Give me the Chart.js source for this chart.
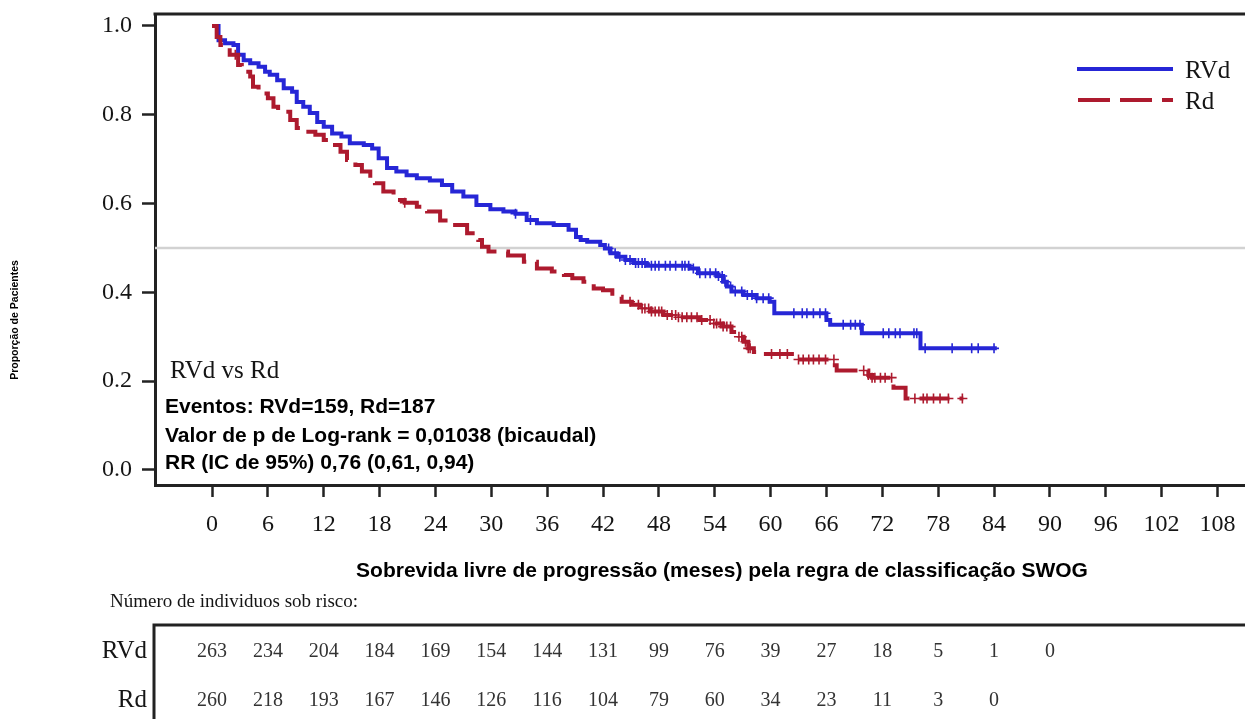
<!DOCTYPE html>
<html>
<head>
<meta charset="utf-8">
<script src="https://cdn.jsdelivr.net/npm/chart.js@4/dist/chart.umd.min.js"></script>
<style>
  html, body { margin: 0; padding: 0; background: #fff; }
  #wrap { width: 1245px; height: 719px; }
</style>
</head>
<body>
<div id="wrap"><canvas id="km" width="1245" height="719"></canvas></div>
<script>
// Axis ticks
const monthTicks = [0, 6, 12, 18, 24, 30, 36, 42, 48, 54, 60, 66, 72, 78, 84, 90, 96, 102, 108];
const proportionTicks = [0, 0.2, 0.4, 0.6, 0.8, 1.0];

// Kaplan-Meier step points: time (months) and survival level from that time on
const rvdTimes = [0, 0.7, 1.4, 2.3, 2.8, 3.4, 4.1, 5.0, 5.7, 6.2, 7.0, 7.7, 8.6, 9.1, 9.8, 10.5, 11.3, 12.0, 12.9, 13.9,
  14.8, 16.3, 17.2, 17.9, 18.8, 19.8, 20.9, 22.0, 23.4, 24.7, 25.8, 27.0, 28.4, 29.9, 31.3, 32.6, 33.8, 34.9, 36.7, 38.3,
  39.1, 39.6, 40.3, 41.7, 42.2, 42.8, 43.5, 44.4, 45.3, 46.7, 51.3, 52.2, 54.2, 54.9, 55.3, 55.8, 57.1, 58.5, 59.9, 60.4,
  66.0, 66.4, 69.8, 76.1, 84.3];
const rvdSurv = [1.0, 0.968, 0.961, 0.957, 0.935, 0.923, 0.916, 0.908, 0.897, 0.89, 0.878, 0.86, 0.852, 0.829, 0.818, 0.804, 0.784, 0.773, 0.758, 0.751,
  0.736, 0.732, 0.724, 0.702, 0.68, 0.672, 0.664, 0.657, 0.652, 0.642, 0.627, 0.616, 0.597, 0.587, 0.582, 0.577, 0.563, 0.556, 0.552, 0.541,
  0.525, 0.518, 0.514, 0.507, 0.499, 0.488, 0.48, 0.473, 0.466, 0.46, 0.454, 0.443, 0.437, 0.424, 0.413, 0.402, 0.394, 0.387, 0.379, 0.353,
  0.338, 0.327, 0.308, 0.274, 0.274];

const rdTimes = [0, 0.5, 0.9, 1.9, 2.8, 3.2, 4.1, 4.4, 5.0, 6.0, 6.6, 7.1, 8.4, 9.1, 9.8, 11.1, 12.0, 12.9, 13.8, 14.5,
  15.4, 16.1, 17.0, 17.5, 18.4, 19.5, 20.7, 22.0, 23.1, 24.5, 25.8, 27.4, 28.6, 29.0, 29.7, 31.8, 33.5, 34.9, 36.5, 37.8,
  38.7, 39.9, 41.0, 42.0, 43.0, 44.0, 45.1, 46.0, 47.1, 48.5, 49.9, 52.4, 53.9, 54.9, 55.8, 56.6, 57.1, 57.6, 58.2, 59.1,
  62.6, 66.9, 67.1, 70.5, 70.9, 73.2, 74.5, 80.7];
const rdSurv = [1.0, 0.975, 0.957, 0.935, 0.912, 0.897, 0.886, 0.863, 0.848, 0.837, 0.818, 0.807, 0.788, 0.77, 0.762, 0.755, 0.743, 0.732, 0.717, 0.698,
  0.687, 0.672, 0.657, 0.646, 0.627, 0.608, 0.602, 0.593, 0.582, 0.562, 0.552, 0.533, 0.518, 0.503, 0.492, 0.483, 0.469, 0.454, 0.447, 0.439,
  0.432, 0.424, 0.409, 0.405, 0.39, 0.379, 0.372, 0.364, 0.357, 0.349, 0.344, 0.338, 0.33, 0.323, 0.311, 0.30, 0.289, 0.274, 0.266, 0.261,
  0.249, 0.236, 0.224, 0.214, 0.208, 0.185, 0.161, 0.161];

// Censoring times (months)
const rvdCensored = [32.6, 34.2, 42.6, 43.3, 43.8, 44.4, 44.9, 45.5, 45.8, 46.2, 46.5, 47.2, 47.6, 48.0, 48.7, 49.2, 49.8, 50.5,
  50.8, 51.2, 51.7, 52.4, 53.0, 53.5, 54.1, 54.4, 54.8, 55.1, 55.7, 56.2, 56.9, 57.5, 58.0, 58.5, 59.2, 59.8, 62.5, 63.4, 63.9,
  64.6, 65.3, 65.9, 67.8, 68.6, 69.1, 69.6, 72.1, 72.7, 73.4, 73.9, 75.4, 75.7, 76.6, 79.5, 81.6, 82.3, 84.0];
const rdCensored = [2.5, 20.7, 44.9, 45.8, 46.2, 46.5, 46.9, 47.2, 47.6, 48.0, 48.3, 48.9, 49.4, 49.8, 50.1, 50.5, 51.0, 51.5,
  52.1, 52.6, 53.5, 53.9, 54.2, 54.6, 54.9, 55.3, 55.7, 56.6, 56.9, 57.3, 57.6, 57.8, 60.1, 61.0, 61.8, 63.0, 63.5, 64.1, 64.6,
  65.2, 65.9, 66.8, 70.0, 70.5, 70.9, 71.2, 71.8, 72.3, 73.0, 75.5, 76.4, 76.8, 77.5, 78.2, 79.1, 80.6];

// Number at risk
const riskMonths = [0, 6, 12, 18, 24, 30, 36, 42, 48, 54, 60, 66, 72, 78, 84, 90];
const rvdAtRisk = [263, 234, 204, 184, 169, 154, 144, 131, 99, 76, 39, 27, 18, 5, 1, 0];
const rdAtRisk = [260, 218, 193, 167, 146, 126, 116, 104, 79, 60, 34, 23, 11, 3, 0];

const medianLevel = 0.5;

const BLUE = '#2626d6';
const RED = '#ad1a2e';
const INK = '#151515';
const SERIF = '"Liberation Serif", "Times New Roman", serif';
const SANS = '"Liberation Sans", Arial, sans-serif';
const X_MIN = -6.125, X_MAX = 110.25, X_EDGE = 111.2;

const steps = (t, s) => t.map((v, i) => ({ x: v, y: s[i] }));
const levelAt = (t, s, x) => { let k = 0; for (let i = 0; i < t.length; i++) if (t[i] <= x) k = i; return s[k]; };
const marks = (c, t, s) => c.map(x => ({ x: x, y: levelAt(t, s, x) }));

const decor = {
  id: 'kmDecor',
  afterDraw(chart) {
    const ctx = chart.ctx;
    const area = chart.chartArea;
    const xs = chart.scales.x;
    ctx.save();

    // top frame line, and the base line carried out to the right edge
    ctx.strokeStyle = '#222';
    ctx.lineWidth = 3;
    ctx.setLineDash([]);
    ctx.beginPath();
    ctx.moveTo(area.left - 1.5, area.top);
    ctx.lineTo(chart.width, area.top);
    ctx.moveTo(area.right - 2, area.bottom + 0.5);
    ctx.lineTo(chart.width, area.bottom + 0.5);
    ctx.stroke();

    // legend
    ctx.lineWidth = 4;
    ctx.strokeStyle = BLUE;
    ctx.beginPath(); ctx.moveTo(1077, 69); ctx.lineTo(1173, 69); ctx.stroke();
    ctx.strokeStyle = RED;
    ctx.setLineDash([32, 10]);
    ctx.beginPath(); ctx.moveTo(1078, 100); ctx.lineTo(1173, 100); ctx.stroke();
    ctx.setLineDash([]);
    ctx.fillStyle = INK;
    ctx.textBaseline = 'alphabetic';
    ctx.textAlign = 'left';
    ctx.font = '25px ' + SERIF;
    ctx.fillText('RVd', 1185, 78);
    ctx.fillText('Rd', 1185, 109);

    // statistics block
    ctx.fillText('RVd vs Rd', 170, 378);
    ctx.font = 'bold 21px ' + SANS;
    ctx.fillStyle = '#000';
    ctx.fillText('Eventos: RVd=159, Rd=187', 165, 413);
    ctx.fillText('Valor de p de Log-rank = 0,01038 (bicaudal)', 165, 442);
    ctx.fillText('RR (IC de 95%) 0,76 (0,61, 0,94)', 165, 469);

    // axis titles
    ctx.textAlign = 'center';
    ctx.fillText('Sobrevida livre de progressão (meses) pela regra de classificação SWOG', 722, 577);
    ctx.save();
    ctx.translate(15, 320);
    ctx.rotate(-Math.PI / 2);
    ctx.font = 'bold 10.5px ' + SANS;
    ctx.textBaseline = 'middle';
    ctx.fillText('Proporção de Pacientes', 0, 0);
    ctx.restore();

    // number-at-risk table
    ctx.textAlign = 'left';
    ctx.textBaseline = 'alphabetic';
    ctx.fillStyle = INK;
    ctx.font = '19px ' + SERIF;
    ctx.fillText('Número de individuos sob risco:', 110, 607);

    ctx.strokeStyle = '#222';
    ctx.lineWidth = 3;
    ctx.beginPath();
    ctx.moveTo(154, 719);
    ctx.lineTo(154, 625);
    ctx.lineTo(chart.width, 625);
    ctx.stroke();

    ctx.font = '25px ' + SERIF;
    ctx.textAlign = 'right';
    ctx.fillText('RVd', 147, 658);
    ctx.fillText('Rd', 147, 707);

    ctx.font = '20px ' + SERIF;
    ctx.textAlign = 'center';
    ctx.fillStyle = '#333';
    rvdAtRisk.forEach((n, i) => ctx.fillText(String(n), xs.getPixelForValue(riskMonths[i]), 657));
    rdAtRisk.forEach((n, i) => ctx.fillText(String(n), xs.getPixelForValue(riskMonths[i]), 706));

    ctx.restore();
  }
};

new Chart(document.getElementById('km'), {
  type: 'line',
  data: {
    datasets: [
      {
        label: 'Rd',
        data: steps(rdTimes, rdSurv),
        borderColor: RED,
        borderWidth: 4,
        borderDash: [30, 10],
        stepped: 'before',
        pointRadius: 0,
        fill: false,
        order: 1
      },
      {
        label: 'Rd censurado',
        data: marks(rdCensored, rdTimes, rdSurv),
        showLine: false,
        pointStyle: 'cross',
        pointRadius: 5,
        pointBorderWidth: 1.6,
        pointBorderColor: RED,
        order: 1
      },
      {
        label: 'RVd',
        data: steps(rvdTimes, rvdSurv),
        borderColor: BLUE,
        borderWidth: 4,
        stepped: 'before',
        pointRadius: 0,
        fill: false,
        order: 2
      },
      {
        label: 'RVd censurado',
        data: marks(rvdCensored, rvdTimes, rvdSurv),
        showLine: false,
        pointStyle: 'cross',
        pointRadius: 5,
        pointBorderWidth: 1.6,
        pointBorderColor: BLUE,
        order: 2
      },
      {
        label: 'Mediana',
        data: [{ x: X_MIN, y: medianLevel }, { x: X_EDGE, y: medianLevel }],
        borderColor: '#d2d2d2',
        borderWidth: 2.5,
        pointRadius: 0,
        clip: false,
        order: 10
      }
    ]
  },
  options: {
    responsive: false,
    devicePixelRatio: 1,
    animation: false,
    layout: { padding: { top: 14, left: 0, right: 0, bottom: 174 } },
    plugins: { legend: { display: false }, tooltip: { enabled: false } },
    scales: {
      x: {
        type: 'linear',
        min: X_MIN,
        max: X_MAX,
        afterBuildTicks: s => { s.ticks = monthTicks.map(v => ({ value: v })); },
        afterFit: s => { s.height = 60; s.paddingLeft = 0; s.paddingRight = 0; },
        ticks: {
          autoSkip: false,
          maxRotation: 0,
          padding: 13,
          color: INK,
          font: { family: SERIF, size: 24 },
          callback: v => String(v)
        },
        grid: { drawOnChartArea: false, drawTicks: true, tickLength: 12, tickWidth: 2.5, tickColor: '#222' },
        border: { display: true, color: '#222', width: 3 }
      },
      y: {
        type: 'linear',
        min: -0.0338,
        max: 1.027,
        afterBuildTicks: s => { s.ticks = proportionTicks.map(v => ({ value: v })); },
        afterFit: s => { s.width = 155; s.paddingTop = 0; s.paddingBottom = 0; },
        ticks: {
          padding: 10,
          color: INK,
          font: { family: SERIF, size: 24 },
          callback: v => Number(v).toFixed(1)
        },
        grid: { drawOnChartArea: false, drawTicks: true, tickLength: 13, tickWidth: 2.5, tickColor: '#222' },
        border: { display: true, color: '#222', width: 3 }
      }
    }
  },
  plugins: [decor]
});
</script>
</body>
</html>
